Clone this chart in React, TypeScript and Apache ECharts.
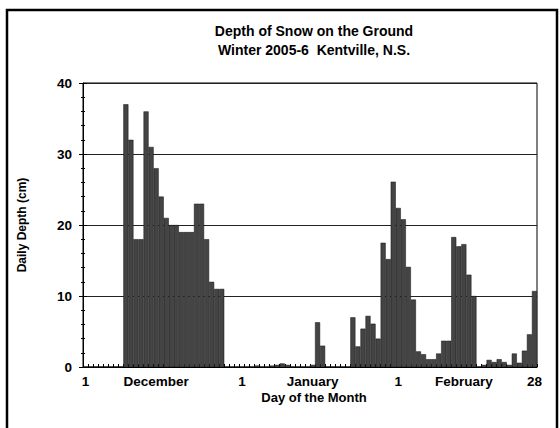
import React, { useEffect, useRef } from "react";
import * as echarts from "echarts";

// Days from 1 December 2005 to 28 February 2006
const decDays = Array.from({ length: 31 }, (_, i) => String(i + 1));
const janDays = Array.from({ length: 31 }, (_, i) => String(i + 1));
const febDays = Array.from({ length: 28 }, (_, i) => String(i + 1));
const days = [...decDays, ...janDays, ...febDays];

// Daily snow depth (cm)
const decDepth = [
  0, 0, 0, 0, 0, 0, 0, 0, 37, 32, 18, 18, 36, 31, 28, 24, 21, 20, 20, 19, 19, 19,
  23, 23, 18, 12, 11, 11, 0, 0, 0,
];
const janDepth = [
  0, 0, 0, 0.2, 0, 0, 0.2, 0.3, 0.5, 0.3, 0, 0, 0, 0, 0.3, 6.3, 3.0, 0, 0, 0, 0, 0,
  7.0, 2.9, 5.4, 7.2, 6.1, 4.0, 17.5, 15.2, 26.1,
];
const febDepth = [
  22.4, 20.8, 14.1, 9.5, 2.2, 1.8, 1.1, 1.1, 1.9, 3.7, 3.7, 18.3, 17.0, 17.3, 13.0,
  10.0, 0, 0.3, 1.0, 0.7, 1.1, 0.7, 0.3, 1.9, 0.6, 2.3, 4.6, 10.7,
];
const depth = [...decDepth, ...janDepth, ...febDepth];

// Tick labels along the day axis (index -> text)
const xLabelIndex = [0, 14, 31, 45, 62, 75, 89];
const xLabelText = ["1", "December", "1", "January", "1", "February", "28"];

const yTicks = [0, 10, 20, 30, 40];

const titleLines = ["Depth of Snow on the Ground", "Winter 2005-6  Kentville, N.S."];
const xName = "Day of the Month";
const yName = "Daily Depth (cm)";

const FONT = "'Liberation Sans', Arial, sans-serif";

export default function App() {
  const ref = useRef<HTMLDivElement>(null);

  useEffect(() => {
    if (!ref.current) return;
    const chart = echarts.init(ref.current, null, { renderer: "svg" });
    const labelMap: Record<number, string> = {};
    xLabelIndex.forEach((idx, i) => (labelMap[idx] = xLabelText[i]));

    chart.setOption({
      animation: false,
      backgroundColor: "#ffffff",
      grid: {
        left: 83,
        right: 23,
        top: 83,
        bottom: 61,
        show: true,
        borderColor: "#000",
        borderWidth: 1,
        backgroundColor: "transparent",
      },
      xAxis: {
        type: "category",
        data: days,
        boundaryGap: true,
        axisLine: { lineStyle: { color: "#000", width: 1 } },
        axisTick: {
          show: true,
          inside: true,
          length: 3,
          interval: 0,
          lineStyle: { color: "#000", width: 1 },
        },
        axisLabel: {
          interval: 0,
          margin: 7,
          color: "#000",
          fontFamily: FONT,
          fontWeight: "bold",
          fontSize: 13.5,
          formatter: (_v: string, idx: number) => labelMap[idx] ?? "",
        },
        splitLine: { show: false },
      },
      yAxis: [
        {
          type: "value",
          min: yTicks[0],
          max: yTicks[yTicks.length - 1],
          interval: 10,
          axisLine: { show: true, lineStyle: { color: "#000", width: 1 } },
          axisTick: { show: true, inside: false, length: 4, lineStyle: { color: "#000" } },
          minorTick: { show: true, splitNumber: 5, length: 2, lineStyle: { color: "#000" } },
          axisLabel: {
            margin: 11,
            color: "#000",
            fontFamily: FONT,
            fontWeight: "bold",
            fontSize: 13.5,
          },
          splitLine: { show: true, lineStyle: { color: "#222", width: 1 } },
        },
        {
          type: "value",
          position: "left",
          min: yTicks[0],
          max: yTicks[yTicks.length - 1],
          interval: 10,
          axisLine: { show: false },
          axisTick: { show: true, inside: true, length: 4, lineStyle: { color: "#000" } },
          minorTick: { show: true, splitNumber: 5, length: 2, lineStyle: { color: "#000" } },
          axisLabel: { show: false },
          splitLine: { show: false },
        },
      ],
      series: [
        {
          type: "bar",
          data: depth,
          barCategoryGap: "0%",
          itemStyle: { color: "#444444", borderColor: "#111", borderWidth: 0.5 },
        },
      ],
      graphic: [
        {
          type: "rect",
          shape: { x: 7, y: 10, width: 550, height: 440 },
          style: { fill: "none", stroke: "#000", lineWidth: 2.5 },
          silent: true,
        },
        {
          type: "text",
          x: 314,
          y: 31,
          style: {
            text: titleLines[0],
            fill: "#000",
            font: `bold 14px ${FONT}`,
            textAlign: "center",
            textVerticalAlign: "middle",
          },
        },
        {
          type: "text",
          x: 314,
          y: 50,
          style: {
            text: titleLines[1],
            fill: "#000",
            font: `bold 14px ${FONT}`,
            textAlign: "center",
            textVerticalAlign: "middle",
          },
        },
        {
          type: "text",
          x: 314,
          y: 397,
          style: {
            text: xName,
            fill: "#000",
            font: `bold 13px ${FONT}`,
            textAlign: "center",
            textVerticalAlign: "middle",
          },
        },
        {
          type: "text",
          x: 22,
          y: 225,
          rotation: Math.PI / 2,
          style: {
            text: yName,
            fill: "#000",
            font: `bold 12px ${FONT}`,
            textAlign: "center",
            textVerticalAlign: "middle",
          },
        },
      ],
    });

    return () => chart.dispose();
  }, []);

  return (
    <div
      ref={ref}
      style={{ position: "fixed", left: 0, top: 0, width: 560, height: 428, background: "#fff" }}
    />
  );
}
